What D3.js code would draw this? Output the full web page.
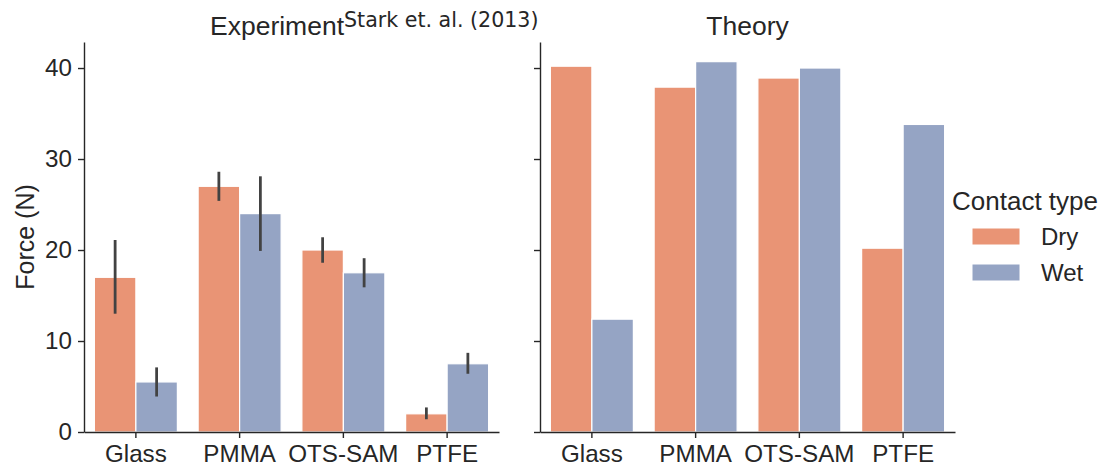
<!DOCTYPE html>
<html>
<head>
<meta charset="utf-8">
<script src="https://cdn.jsdelivr.net/npm/d3@7"></script>
<style>
  body { margin: 0; background: #fff; }
  text { font-family: "Liberation Sans", Arial, sans-serif; fill: #262626; }
</style>
</head>
<body>
<script>
// data
var materials = ["Glass", "PMMA", "OTS-SAM", "PTFE"];
var contactTypes = ["Dry", "Wet"];
var expDry = [17, 27, 20, 2];
var expWet = [5.5, 24, 17.5, 7.5];
var expDryLo = [13, 25.4, 18.6, 1.4];
var expDryHi = [21.1, 28.6, 21.4, 2.7];
var expWetLo = [3.9, 19.9, 15.9, 6.4];
var expWetHi = [7.1, 28.1, 19.1, 8.7];
var theoryDry = [40.2, 37.9, 38.9, 20.2];
var theoryWet = [12.4, 40.7, 40.0, 33.8];
var yTicks = [0, 10, 20, 30, 40];

var colors = { Dry: "#e99475", Wet: "#95a4c4" };

//frame dimensions
var width = 1107,
    height = 468;

var svg = d3.select("body")
    .append("svg")
    .attr("width", width)
    .attr("height", height);

var top_ = 42, bottom = 432, panelW = 415;

var y = d3.scaleLinear()
    .domain([0, 42.86])
    .range([bottom, top_]);

var x = d3.scaleBand()
    .domain(materials)
    .range([0, panelW]);

var xSub = d3.scaleBand()
    .domain(contactTypes)
    .range([x.bandwidth() * 0.1, x.bandwidth() * 0.9]);

function makeRows(dry, wet, dryLo, dryHi, wetLo, wetHi){
    var rows = [];
    materials.forEach(function(m, i){
        rows.push({ m: m, t: "Dry", v: dry[i], lo: dryLo ? dryLo[i] : null, hi: dryHi ? dryHi[i] : null });
        rows.push({ m: m, t: "Wet", v: wet[i], lo: wetLo ? wetLo[i] : null, hi: wetHi ? wetHi[i] : null });
    });
    return rows;
}

function drawPanel(left, rows, showLabels){
    var g = svg.append("g").attr("transform", "translate(" + left + ",0)");

    g.selectAll(".bar")
        .data(rows)
        .enter()
        .append("rect")
        .attr("class", "bar")
        .attr("x", function(d){ return x(d.m) + xSub(d.t); })
        .attr("width", xSub.bandwidth())
        .attr("y", function(d){ return y(d.v); })
        .attr("height", function(d){ return y(0) - y(d.v); })
        .attr("fill", function(d){ return colors[d.t]; })
        .attr("stroke", "#ffffff")
        .attr("stroke-width", 1.2);

    //error bars
    g.selectAll(".err")
        .data(rows.filter(function(d){ return d.lo !== null; }))
        .enter()
        .append("line")
        .attr("class", "err")
        .attr("x1", function(d){ return x(d.m) + xSub(d.t) + xSub.bandwidth() / 2; })
        .attr("x2", function(d){ return x(d.m) + xSub(d.t) + xSub.bandwidth() / 2; })
        .attr("y1", function(d){ return y(d.lo); })
        .attr("y2", function(d){ return y(d.hi); })
        .attr("stroke", "#424242")
        .attr("stroke-width", 2.8);

    var yAxis = d3.axisLeft(y)
        .tickValues(yTicks)
        .tickSize(6)
        .tickSizeOuter(0)
        .tickPadding(6);
    if (!showLabels) yAxis.tickFormat("");

    var ya = g.append("g").attr("class", "yaxis").call(yAxis);

    var xa = g.append("g")
        .attr("transform", "translate(0," + bottom + ")")
        .call(d3.axisBottom(x).tickSize(6).tickSizeOuter(0).tickPadding(7));

    [ya, xa].forEach(function(a){
        a.selectAll("path, line").attr("stroke", "#262626").attr("stroke-width", 1.4);
        a.selectAll("text").style("font-size", "24.2px").attr("fill", "#262626");
    });
    return g;
}

var leftA = 84, leftB = 540;
drawPanel(leftA, makeRows(expDry, expWet, expDryLo, expDryHi, expWetLo, expWetHi), true);
drawPanel(leftB, makeRows(theoryDry, theoryWet), false);

//titles
var t1 = svg.append("text")
    .attr("x", 210)
    .attr("y", 35)
    .style("font-size", "26.5px");
t1.append("tspan").text("Experiment");
t1.append("tspan")
    .attr("dy", -8)
    .style("font-family", "'DejaVu Sans', sans-serif")
    .style("font-size", "20.6px")
    .text("Stark et. al. (2013)");

svg.append("text")
    .attr("x", leftB + panelW / 2)
    .attr("y", 35)
    .attr("text-anchor", "middle")
    .style("font-size", "26.5px")
    .text("Theory");

//y label
svg.append("text")
    .attr("transform", "translate(34," + (top_ + bottom) / 2 + ") rotate(-90)")
    .attr("text-anchor", "middle")
    .style("font-size", "25px")
    .text("Force (N)");

//legend
var legend = svg.append("g").attr("transform", "translate(952,0)");
legend.append("text")
    .attr("x", 0)
    .attr("y", 210)
    .style("font-size", "26px")
    .text("Contact type");

var items = legend.selectAll(".item")
    .data(contactTypes)
    .enter()
    .append("g")
    .attr("class", "item")
    .attr("transform", function(d, i){ return "translate(0," + (228 + i * 36) + ")"; });

items.append("rect")
    .attr("x", 20)
    .attr("width", 48)
    .attr("height", 17)
    .attr("fill", function(d){ return colors[d]; })
    .attr("stroke", "#ffffff")
    .attr("stroke-width", 1);

items.append("text")
    .attr("x", 89)
    .attr("y", 16.5)
    .style("font-size", "24px")
    .text(function(d){ return d; });
</script>
</body>
</html>
